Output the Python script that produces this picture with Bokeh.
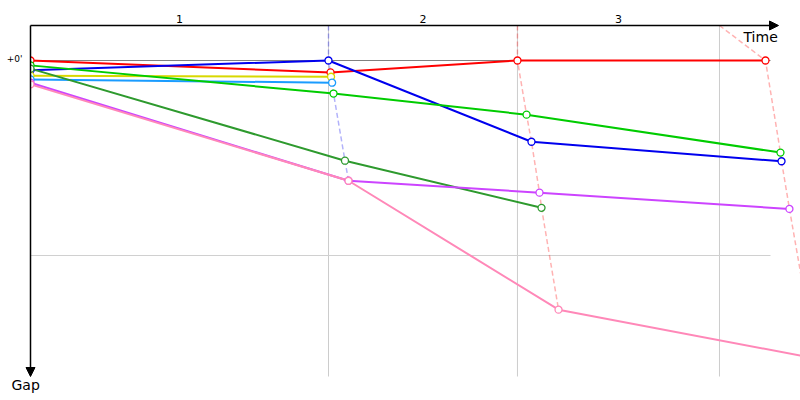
from bokeh.plotting import figure
from bokeh.models import Range1d, Label, Arrow, NormalHead
from bokeh.embed import file_html
from bokeh.resources import INLINE

# ---------------- data ----------------
# checkpoint (segment boundary) times, minutes
checkpoint_times = [27.85, 45.51, 64.39]
segment_labels = ["1", "2", "3"]
gap_grid = [0, 180]            # seconds
gap_tick_labels = ["+0'", ""]

# each rider: time of passage (minutes) and gap to leader (seconds)
red_time = [0, 28.04, 45.51, 68.69]
red_gap = [0, 11, 0, 0]
blue_time = [0, 27.85, 46.82, 70.19]
blue_gap = [9, 0, 75, 93]
yellow_time = [0, 28.09]
yellow_gap = [14, 15]
lightblue_time = [0, 28.19]
lightblue_gap = [17.5, 20.5]
green_time = [0, 28.32, 46.36, 70.09]
green_gap = [4.5, 30.5, 50, 85]
darkgreen_time = [0, 29.39, 47.76]
darkgreen_gap = [7.5, 92.5, 136]
purple_time = [0, 29.72, 47.57, 70.93]
purple_gap = [20.5, 111, 122, 137]
pink_time = [0, 29.72, 49.35, 73.36]
pink_gap = [22, 111, 230, 275]

series = [
    ("#ff0000", red_time, red_gap),
    ("#0000ee", blue_time, blue_gap),
    ("#d8d800", yellow_time, yellow_gap),
    ("#1a9cff", lightblue_time, lightblue_gap),
    ("#00cc00", green_time, green_gap),
    ("#2e9a2e", darkgreen_time, darkgreen_gap),
    ("#cc44ff", purple_time, purple_gap),
    ("#ff88b8", pink_time, pink_gap),
]

# ---------------- layout ----------------
PX_PER_MIN = 10.7      # x scale
PX_PER_SEC = 65 / 60   # y scale
LEFT_PX, ZERO_PX = 30, 60   # frame offsets of t=0 and gap=0
W, H = 800, 400
x0 = -LEFT_PX / PX_PER_MIN
x1 = (W - LEFT_PX) / PX_PER_MIN
y_top = -ZERO_PX / PX_PER_SEC
y_bot = (H - ZERO_PX) / PX_PER_SEC

AXIS_TOP = -35 / PX_PER_SEC
AXIS_BOTTOM = 316 / PX_PER_SEC
TIME_END = 748 / PX_PER_MIN
GRID_END = 740 / PX_PER_MIN

p = figure(width=W, height=H, x_range=Range1d(x0, x1), y_range=Range1d(y_bot, y_top),
           output_backend="svg", toolbar_location=None, min_border=0,
           x_axis_location=None, y_axis_location=None)
p.grid.visible = False
p.outline_line_color = None
p.background_fill_color = "white"
p.border_fill_color = "white"

# grid lines
p.segment(x0=checkpoint_times, y0=[AXIS_TOP] * 3, x1=checkpoint_times, y1=[AXIS_BOTTOM] * 3,
          line_color="#cccccc", line_width=1)
p.segment(x0=[0], y0=[gap_grid[1]], x1=[GRID_END], y1=[gap_grid[1]], line_color="#d0d0d0", line_width=1)
p.segment(x0=[0], y0=[gap_grid[0]], x1=[GRID_END], y1=[gap_grid[0]], line_color="#808080", line_width=1)

# checkpoint dashed lines (derived from rider passages)
for k in range(1, 4):
    pts = [(t[k], g[k], c) for c, t, g in series if len(t) > k]
    pts.sort(key=lambda q: q[1])
    lead_color = pts[0][2]
    xs = [checkpoint_times[k - 1]] + [q[0] for q in pts]
    ys = [AXIS_TOP] + [q[1] for q in pts]
    p.line(xs, ys, line_color=lead_color, line_alpha=0.3, line_width=1.5, line_dash="5 3")

# rider lines
for c, t, g in series:
    p.line(t, g, line_color=c, line_width=2)
for c, t, g in series:
    p.scatter(t, g, marker="circle", size=7, fill_color="white", line_color=c, line_width=1.3)

# hide left halves of start markers
p.quad(left=[x0], right=[0], top=[y_top], bottom=[y_bot], fill_color="white", line_color=None)

# axes
p.add_layout(Arrow(end=NormalHead(size=9, fill_color="black", line_color="black"),
                   x_start=0, y_start=AXIS_TOP, x_end=TIME_END, y_end=AXIS_TOP,
                   line_color="black", line_width=1.5))
p.add_layout(Arrow(end=NormalHead(size=9, fill_color="black", line_color="black"),
                   x_start=0, y_start=AXIS_TOP, x_end=0, y_end=AXIS_BOTTOM,
                   line_color="black", line_width=1.5))

FONT = "DejaVu Sans"
prev = 0
for ct, lab in zip(checkpoint_times, segment_labels):
    p.add_layout(Label(x=(prev + ct) / 2, y=AXIS_TOP - 7 / PX_PER_SEC, text=lab,
                       text_align="center", text_baseline="alphabetic",
                       text_font=FONT, text_font_size="11px", text_color="black"))
    prev = ct

for gv, lab in zip(gap_grid, gap_tick_labels):
    if lab:
        p.add_layout(Label(x=-8 / PX_PER_MIN, y=gv - 2 / PX_PER_SEC, text=lab,
                           text_align="right", text_baseline="alphabetic",
                           text_font=FONT, text_font_size="9px", text_color="black"))

p.add_layout(Label(x=713 / PX_PER_MIN, y=-24 / PX_PER_SEC, text="Time",
                   text_align="left", text_baseline="alphabetic",
                   text_font=FONT, text_font_size="14px", text_color="black"))
p.add_layout(Label(x=-19 / PX_PER_MIN, y=324 / PX_PER_SEC, text="Gap",
                   text_align="left", text_baseline="alphabetic",
                   text_font=FONT, text_font_size="14px", text_color="black"))

open("out.html", "w").write(file_html(p, INLINE))
